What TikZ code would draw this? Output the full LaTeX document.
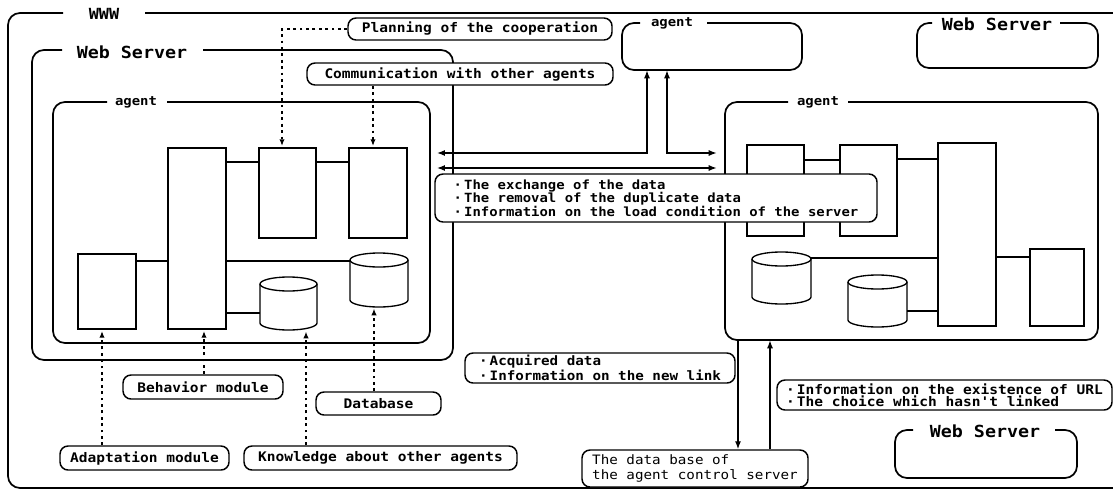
\documentclass[tikz,border=0pt]{standalone}
\usepackage{fontspec}
\setmonofont[FakeStretch=1.1]{DejaVu Sans Mono}
\usetikzlibrary{arrows.meta,fit}

% one drawing unit
\newdimen\px \px=0.75pt

% cylinder store: name, x1, y1, x2, y2
\newcommand\drum[5]{%
  \pgfmathsetmacro\drumrx{(#4-#2)/2}%
  \pgfmathsetmacro\drumcx{(#4+#2)/2}%
  \node[inner sep=0pt, fit={(#2,#3) (#4,#5)}] (#1) {};
  \draw[store] (#2,#3+7) -- (#2,#5-7)
     arc[start angle=180, end angle=0, x radius=\drumrx, y radius=7] -- (#4,#3+7);
  \draw[store] (\drumcx,#3+7) ellipse[x radius=\drumrx, y radius=7];
}

\begin{document}
\begin{tikzpicture}[x=0.75pt, y=-0.75pt,
  frame/.style={line width=1.3pt, rounded corners=9pt},
  module/.style={draw, line width=1pt, fill=white, inner sep=0pt},
  store/.style={line width=1pt, fill=white},
  link/.style={line width=0.9pt},
  tag/.style={draw, line width=1.1pt, rounded corners=6pt, fill=white, inner sep=0pt,
    font=\ttfamily\bfseries\fontsize{9.9pt}{11pt}\selectfont},
  note/.style={tag, align=left},
  title/.style={inner sep=1pt, font=\ttfamily\bfseries\fontsize{12.5pt}{13pt}\selectfont},
  sub/.style={inner sep=1pt, font=\ttfamily\bfseries\fontsize{9.5pt}{10pt}\selectfont},
  hint/.style={line width=1pt, dash pattern=on 2.2pt off 2.6pt,
    -{Latex[length=5pt,width=4pt]}, shorten >=1pt},
  flow/.style={line width=1pt, {Latex[length=6pt,width=4.5pt]}-{Latex[length=6pt,width=4.5pt]}},
  oneway/.style={line width=1pt, -{Latex[length=6pt,width=4.5pt]}},
]
\useasboundingbox (0,0) rectangle (1113,493);

% ---------- WWW frame (open to the right)
\node[title, font=\ttfamily\bfseries\fontsize{11.5pt}{12pt}\selectfont] (www) at (104,14) {WWW};
\draw[frame] (63,13) -- (8,13) -- (8,488) -- (1113,488);
\draw[frame] (145,13) -- (1113,13);

% ---------- left web server with its agent
\node[title] (ws1) at (132,52) {Web Server};
\draw[frame] (62,50) -- (32,50) -- (32,360) -- (453,360) -- (453,50) -- (203,50);
\node[sub] (ag1) at (136,102) {agent};
\draw[frame] (107,102) -- (53,102) -- (53,343) -- (430,343) -- (430,102) -- (167,102);
\node[inner sep=0pt, fit={(53,102) (430,343)}] (lagent) {};

\node[module, fit={(168,148) (226,329)}] (A) {};
\node[module, fit={(259,148) (316,238)}] (B) {};
\node[module, fit={(349,148) (407,238)}] (C) {};
\node[module, fit={(78,254) (136,329)}] (D) {};
\drum{cyl1}{260}{277}{317}{330}
\drum{cyl2}{350}{253}{408}{307}

\draw[link] (A.east |- 0,162) -- (B.west |- 0,162);
\draw[link] (B.east |- 0,162) -- (C.west |- 0,162);
\draw[link] (D.east |- 0,261) -- (A.west |- 0,261);
\draw[link] (A.east |- 0,261) -- (cyl2.west |- 0,261);
\draw[link] (A.east |- 0,313) -- (cyl1.west |- 0,313);

% ---------- upper agent
\node[sub] (ag2) at (672,23) {agent};
\draw[frame] (640,23) -- (622,23) -- (622,70) -- (802,70) -- (802,23) -- (707,23);
\node[inner sep=0pt, fit={(622,23) (802,70)}] (tagent) {};

% ---------- upper right web server
\node[title] (ws2) at (997,24) {Web Server};
\draw[frame] (932,23) -- (917,23) -- (917,68) -- (1098,68) -- (1098,23) -- (1060,23);

% ---------- right agent
\node[sub] (ag3) at (818,102) {agent};
\draw[frame] (788,102) -- (725,102) -- (725,340) -- (1098,340) -- (1098,102) -- (848,102);
\node[inner sep=0pt, fit={(725,102) (1098,340)}] (ragent) {};

\node[module, fit={(747,145) (804,236)}] (R1) {};
\node[module, fit={(840,145) (897,236)}] (R2) {};
\node[module, fit={(938,143) (996,326)}] (R3) {};
\node[module, fit={(1030,249) (1084,326)}] (R6) {};
\drum{R4}{752}{252}{811}{304}
\drum{R5}{848}{275}{907}{327}

\draw[link] (R1.east |- 0,160) -- (R2.west |- 0,160);
\draw[link] (R2.east |- 0,159) -- (R3.west |- 0,159);
\draw[link] (R4.east |- 0,258) -- (R3.west |- 0,258);
\draw[link] (R5.east |- 0,311) -- (R3.west |- 0,311);
\draw[link] (R3.east |- 0,257) -- (R6.west |- 0,257);

% ---------- lower right web server
\node[title] (ws3) at (985,431) {Web Server};
\draw[frame] (913,430) -- (895,430) -- (895,478) -- (1077,478) -- (1077,430) -- (1055,430);

% ---------- exchanges between agents
\draw[flow, shorten <=5pt] (lagent.east |- 0,153) -| (tagent.south -| 647,0);
\draw[flow, shorten >=6pt] (tagent.south -| 667,0) |- (ragent.west |- 0,153);
\draw[flow, shorten <=5pt, shorten >=6pt] (lagent.east |- 0,168) -- (ragent.west |- 0,168);

\node[note, minimum width=442\px, minimum height=48\px,
      font=\ttfamily\bfseries\fontsize{9.5pt}{10.1pt}\selectfont] (exch) at (656,198)
  {·\,The exchange of the data\\·\,The removal of the duplicate data\\·\,Information on the load condition of the server};

% ---------- agent control server
\node[note, minimum width=226\px, minimum height=37\px,
      font=\ttfamily\fontsize{9.7pt}{10.6pt}\selectfont] (dbs) at (695,468.5)
  {The data base of\\the agent control server};
\draw[oneway] (ragent.south -| 738,0) -- (dbs.north -| 738,0);
\draw[oneway] (dbs.north -| 770,0) -- (ragent.south -| 770,0);

\node[note, minimum width=270\px, minimum height=30\px,
      font=\ttfamily\bfseries\fontsize{9.7pt}{9.4pt}\selectfont] (acq) at (600,368)
  {·\,Acquired data\\·\,Information on the new link};
\node[note, minimum width=335\px, minimum height=30\px,
      font=\ttfamily\bfseries\fontsize{9.9pt}{9.4pt}\selectfont] (url) at (944.5,395)
  {·\,Information on the existence of URL\\·\,The choice which hasn't linked};

% ---------- module captions
\node[tag, minimum width=264\px, minimum height=22\px] (plan) at (480,29) {Planning of the cooperation};
\node[tag, minimum width=306\px, minimum height=22\px] (comm) at (460,74) {Communication with other agents};
\node[tag, minimum width=160\px, minimum height=24\px] (behav) at (203,387) {Behavior module};
\node[tag, minimum width=125\px, minimum height=23\px] (dbl) at (378.5,403.5) {Database};
\node[tag, minimum width=169\px, minimum height=24\px] (adapt) at (144.5,458) {Adaptation module};
\node[tag, minimum width=273\px, minimum height=24\px] (know) at (380.5,458) {Knowledge about other agents};

\draw[hint] (plan.west) -| (B.north -| 282,0);
\draw[hint] (comm.south -| 373,0) -- (C.north -| 373,0);
\draw[hint] (adapt.north -| 102,0) -- (D.south -| 102,0);
\draw[hint] (behav.north -| 204,0) -- (A.south -| 204,0);
\draw[hint] (know.north -| 306,0) -- (cyl1.south -| 306,0);
\draw[hint] (dbl.north -| 374,0) -- (cyl2.south -| 374,0);
\end{tikzpicture}
\end{document}
